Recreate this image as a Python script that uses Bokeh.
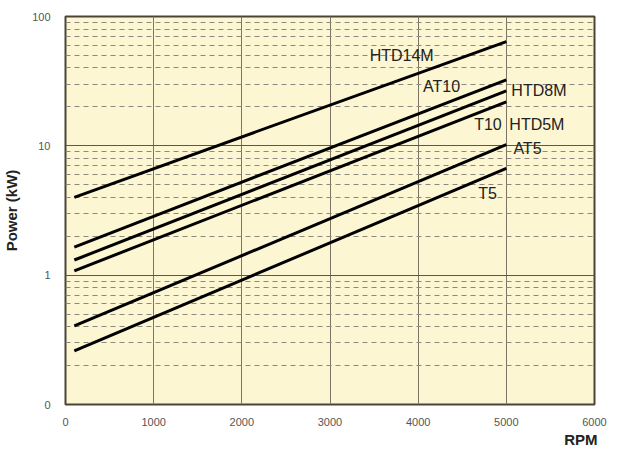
from bokeh.plotting import figure
from bokeh.models import FixedTicker, Grid, Title, Range1d
from bokeh.embed import file_html
from bokeh.resources import INLINE
from bokeh.core.properties import value

# Data: power at 100 rpm and at 5000 rpm
series = ["HTD14M", "AT10", "HTD8M", "HTD5M", "AT5", "T5"]
rpm = [100, 5000]
power_start = [4.0, 1.65, 1.31, 1.08, 0.405, 0.26]
power_end = [64.0, 32.4, 26.6, 21.9, 10.2, 6.7]

label_text = ["HTD14M", "AT10", "HTD8M", "T10", "HTD5M", "AT5", "T5"]
label_x = [3450, 4055, 5057, 4635, 5034, 5080, 4681]
label_y = [49.7, 28.6, 26.6, 14.5, 14.5, 9.5, 4.25]

x_ticks = [0, 1000, 2000, 3000, 4000, 5000, 6000]
y_ticks = [0.1, 1, 10, 100]
y_minor = [m * d for d in (0.1, 1, 10) for m in range(2, 10)]

FONT = "Liberation Sans"

p = figure(width=612, height=447, y_axis_type="log",
           x_range=Range1d(0, 6000), y_range=Range1d(0.1, 100),
           output_backend="svg", toolbar_location=None,
           min_border_left=63, min_border_right=18, min_border_top=16, min_border_bottom=40)

p.border_fill_color = "white"
p.background_fill_color = "#FCF6D2"
p.outline_line_color = "#4a4438"
p.outline_line_width = 2

# axes
p.xaxis.ticker = FixedTicker(ticks=x_ticks)
p.yaxis.ticker = FixedTicker(ticks=y_ticks)
p.yaxis.major_label_overrides = {0.1: "0", 1: "1", 10: "10", 100: "100"}
for ax in (p.xaxis[0], p.yaxis[0]):
    ax.axis_line_color = None
    ax.major_tick_line_color = None
    ax.minor_tick_line_color = None
    ax.major_label_text_font = FONT
    ax.major_label_text_font_size = "11px"
    ax.major_label_text_color = "#555555"
p.xaxis.major_label_standoff = 7
p.yaxis.major_label_standoff = 9

p.yaxis.axis_label = "Power (kW)"
p.yaxis.axis_label_text_font = FONT
p.yaxis.axis_label_text_font_size = "15px"
p.yaxis.axis_label_text_font_style = "bold"
p.yaxis.axis_label_text_color = "#222222"
p.yaxis.axis_label_standoff = 9

# grids
p.xgrid.grid_line_color = "#7d7464"
p.xgrid.grid_line_width = 1
p.ygrid.grid_line_color = "#5f574a"
p.ygrid.grid_line_width = 1
minor = Grid(dimension=1, ticker=FixedTicker(ticks=y_minor),
             grid_line_color="#8c8880", grid_line_dash="5 4", grid_line_width=1)
p.add_layout(minor)

# lines
for s, a, b in zip(series, power_start, power_end):
    p.line(rpm, [a, b], line_color="black", line_width=3)

p.text(label_x, label_y, text=label_text, text_font=value(FONT),
       text_font_size="16px", text_color="#222222", text_baseline="middle",
       text_align="left")

t = Title(text="RPM", align="right", text_font=FONT, text_font_size="15px",
          text_font_style="bold", text_color="#222222", offset=-3, standoff=0)
p.add_layout(t, "below")

open("out.html", "w").write(file_html(p, INLINE))
